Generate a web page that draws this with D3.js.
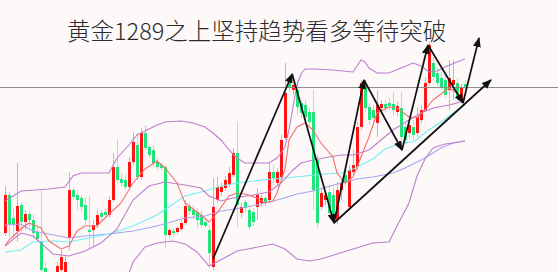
<!DOCTYPE html>
<html>
<head>
<meta charset="utf-8">
<script src="https://cdn.jsdelivr.net/npm/d3@7"></script>
<style>
  html, body { margin: 0; padding: 0; background: #fdf9f9; }
  svg { display: block; }
</style>
</head>
<body>
<div id="chart"></div>
<script>
// gold 1H candles
const titleText = "黄金1289之上坚持趋势看多等待突破";
const keyLevel = 1289;

const opens = [
  1274.4, 1278.2, 1275.9, 1274.6, 1277.2, 1275.5, 1276.3, 1275.7, 1274.5, 1273.6,
  1270.9, 1268.9, 1269.5, 1270.0, 1270.7, 1270.5, 1273.9, 1278.7, 1278.2, 1277.9,
  1277.2, 1274.7, 1274.7, 1275.2, 1276.4, 1276.5, 1276.2, 1277.7, 1281.0, 1279.8,
  1279.7, 1279.0, 1281.5, 1283.2, 1280.0, 1284.4, 1283.0, 1282.7, 1281.5, 1281.2,
  1281.0, 1274.2, 1274.6, 1274.5, 1274.8, 1275.4, 1277.1, 1276.7, 1276.5, 1276.2,
  1275.5, 1274.7, 1271.0, 1277.7, 1278.5, 1278.9, 1279.2, 1280.2, 1282.4, 1276.4,
  1277.5, 1276.7, 1276.5, 1277.0, 1277.4, 1277.9, 1277.7, 1280.5, 1279.4, 1280.0,
  1283.9, 1289.4, 1288.7, 1288.7, 1287.4, 1287.2, 1286.5, 1286.5, 1281.7, 1277.0,
  1277.7, 1278.5, 1278.2, 1275.7, 1278.7, 1280.2, 1277.0, 1280.5, 1281.0, 1285.0,
  1289.4, 1287.0, 1286.7, 1285.4, 1286.9, 1287.3, 1287.4, 1287.3, 1286.5, 1286.9,
  1285.0, 1284.4, 1285.0, 1284.4, 1285.7, 1286.7, 1289.4, 1291.4, 1290.4, 1289.9,
  1289.7, 1288.7, 1289.2, 1289.4, 1287.7, 1289.3
];
const closes = [
  1278.2, 1275.3, 1275.2, 1277.1, 1275.5, 1276.3, 1275.7, 1274.4, 1273.8, 1270.7,
  1269.2, 1269.7, 1270.2, 1271.1, 1272.0, 1271.5, 1278.7, 1278.0, 1277.7, 1277.0,
  1275.7, 1274.5, 1275.2, 1276.2, 1276.0, 1276.2, 1277.7, 1281.0, 1279.7, 1279.4,
  1279.0, 1281.5, 1283.5, 1280.0, 1284.4, 1282.9, 1282.2, 1281.4, 1281.0, 1280.9,
  1274.2, 1274.7, 1274.4, 1274.9, 1275.4, 1277.1, 1276.6, 1276.2, 1275.7, 1275.2,
  1275.1, 1272.4, 1277.0, 1279.0, 1279.0, 1279.7, 1280.4, 1282.4, 1277.2, 1277.0,
  1276.9, 1275.0, 1275.5, 1278.2, 1277.9, 1277.5, 1280.5, 1279.9, 1280.5, 1283.7,
  1288.4, 1288.9, 1289.2, 1287.0, 1286.4, 1286.0, 1285.5, 1278.7, 1275.4, 1278.4,
  1278.2, 1276.4, 1275.9, 1278.7, 1279.4, 1279.4, 1280.7, 1281.2, 1285.0, 1289.4,
  1286.9, 1285.7, 1285.9, 1287.2, 1287.3, 1286.9, 1287.1, 1286.7, 1287.1, 1284.0,
  1283.7, 1285.2, 1284.2, 1286.0, 1286.7, 1289.4, 1293.2, 1290.0, 1289.4, 1289.0,
  1288.2, 1289.9, 1289.7, 1287.9, 1289.0, 1288.9
];
const highs = [
  1279.1, 1278.5, 1277.0, 1281.4, 1277.5, 1276.7, 1276.6, 1276.3, 1274.9, 1278.7,
  1271.5, 1270.1, 1270.5, 1271.5, 1272.7, 1272.2, 1280.5, 1278.9, 1278.7, 1278.2,
  1278.0, 1278.1, 1275.7, 1276.7, 1276.7, 1276.9, 1278.1, 1282.4, 1283.8, 1280.4,
  1280.2, 1282.0, 1284.5, 1284.4, 1284.9, 1285.2, 1283.2, 1283.2, 1281.9, 1281.4,
  1281.2, 1274.9, 1274.8, 1275.1, 1275.7, 1277.7, 1277.4, 1277.2, 1276.9, 1276.7,
  1275.9, 1275.2, 1279.9, 1280.0, 1279.4, 1280.1, 1281.0, 1282.9, 1285.5, 1277.4,
  1277.7, 1277.2, 1276.9, 1278.9, 1278.2, 1278.2, 1281.4, 1281.2, 1280.9, 1284.2,
  1291.4, 1289.7, 1289.5, 1289.7, 1287.7, 1287.7, 1286.9, 1288.7, 1282.2, 1278.9,
  1278.7, 1279.2, 1279.2, 1279.5, 1279.9, 1280.5, 1281.2, 1282.7, 1285.5, 1289.7,
  1289.7, 1287.4, 1287.2, 1288.7, 1287.7, 1287.7, 1287.9, 1288.5, 1287.5, 1288.5,
  1285.5, 1285.9, 1285.7, 1286.9, 1287.2, 1290.0, 1293.5, 1291.9, 1290.9, 1290.5,
  1290.2, 1291.7, 1291.7, 1289.9, 1289.3, 1289.7
];
const lows = [
  1274.1, 1274.0, 1273.9, 1273.5, 1274.5, 1274.7, 1275.0, 1273.9, 1273.5, 1270.2,
  1268.7, 1268.5, 1269.1, 1269.7, 1270.5, 1270.1, 1272.7, 1277.7, 1276.7, 1276.5,
  1275.2, 1272.9, 1273.0, 1274.9, 1275.7, 1275.9, 1275.9, 1277.5, 1279.4, 1279.0,
  1278.7, 1278.7, 1281.2, 1279.7, 1279.7, 1282.7, 1281.9, 1281.0, 1280.7, 1280.7,
  1272.9, 1274.0, 1274.1, 1274.3, 1274.6, 1275.2, 1276.2, 1275.7, 1274.9, 1274.9,
  1275.0, 1270.9, 1270.7, 1277.4, 1278.1, 1278.7, 1279.0, 1280.0, 1275.0, 1275.9,
  1276.5, 1274.7, 1275.1, 1275.7, 1277.0, 1277.1, 1277.4, 1279.2, 1279.2, 1279.7,
  1283.7, 1288.5, 1288.2, 1286.2, 1285.9, 1285.7, 1285.2, 1276.7, 1274.9, 1276.7,
  1277.2, 1276.1, 1275.3, 1275.3, 1277.7, 1279.1, 1276.7, 1280.2, 1280.7, 1284.7,
  1286.5, 1285.2, 1285.5, 1284.0, 1286.5, 1286.5, 1286.7, 1286.2, 1286.1, 1283.7,
  1283.3, 1283.9, 1283.7, 1284.0, 1285.4, 1286.5, 1289.1, 1289.7, 1289.1, 1288.7,
  1287.9, 1286.7, 1287.7, 1287.5, 1287.4, 1288.2
];

// indicator lines, [bar index, price]
const bbUpper = [
  [0, 1277.6], [4, 1278.6], [11, 1278.8], [15, 1279.0], [17, 1280.1], [19, 1280.4],
  [26, 1280.4], [28, 1281.9], [31, 1283.2], [33, 1284.2], [36, 1284.8], [38, 1285.2],
  [40, 1285.5], [44, 1285.6], [47, 1285.4], [50, 1285.0], [52, 1284.4], [54, 1283.7],
  [56, 1282.7], [58, 1281.9], [60, 1281.4], [66, 1281.4], [68, 1281.9], [69, 1282.4],
  [70, 1283.0], [71, 1284.7], [72, 1287.0], [73, 1289.2], [74, 1290.3], [75, 1290.8],
  [77, 1290.8], [82, 1290.7], [87, 1290.5], [88, 1291.1], [89, 1291.7], [90, 1291.5],
  [91, 1290.9], [93, 1290.4], [96, 1290.4], [99, 1290.9], [102, 1291.4], [104, 1291.1],
  [106, 1290.5], [108, 1290.6], [110, 1291.0], [113, 1291.5], [115, 1291.8]
];
const bbMiddle = [
  [0, 1273.1], [4, 1274.4], [7, 1274.1], [12, 1272.3], [16, 1272.1], [20, 1272.6],
  [24, 1273.4], [28, 1274.8], [32, 1277.7], [36, 1279.1], [40, 1279.5], [45, 1279.2],
  [49, 1278.9], [51, 1278.1], [54, 1277.6], [57, 1277.9], [62, 1278.2], [66, 1278.5],
  [69, 1279.4], [72, 1280.7], [74, 1281.4], [77, 1281.7], [81, 1282.0], [84, 1282.2],
  [87, 1282.2], [91, 1282.7], [94, 1283.7], [97, 1284.7], [101, 1285.7], [104, 1286.4],
  [107, 1286.9], [111, 1287.2], [114, 1287.5]
];
const bbLower = [
  [30, 1269.2], [32, 1271.5], [35, 1273.0], [38, 1273.4], [42, 1273.6], [45, 1273.3],
  [48, 1272.5], [51, 1271.1], [53, 1271.5], [58, 1272.6], [62, 1272.9], [67, 1273.3],
  [70, 1272.8], [73, 1271.8], [76, 1271.6], [79, 1271.8], [83, 1272.3], [87, 1272.8],
  [92, 1273.4], [96, 1273.5], [98, 1275.1], [101, 1277.4], [103, 1280.1], [105, 1281.8],
  [107, 1282.9], [110, 1283.3], [112, 1283.4], [115, 1283.6]
];
const maSlow = [
  [0, 1275.2], [4, 1275.3], [7, 1274.6], [16, 1273.9], [20, 1274.1], [26, 1274.3],
  [32, 1274.6], [38, 1275.1], [45, 1275.9], [50, 1276.1], [54, 1276.6], [59, 1276.9],
  [64, 1277.3], [69, 1277.8], [73, 1278.3], [77, 1278.6], [83, 1279.3], [88, 1279.8],
  [92, 1280.0], [97, 1280.4], [100, 1280.9], [105, 1281.9], [109, 1282.9], [112, 1283.4],
  [115, 1283.6]
];
const maMid = [
  [0, 1272.5], [4, 1272.7], [7, 1273.5], [12, 1273.6], [16, 1273.5], [21, 1273.9],
  [26, 1274.3], [32, 1275.1], [38, 1276.2], [45, 1278.1], [50, 1278.6], [54, 1279.1],
  [58, 1279.4], [62, 1279.6], [67, 1279.8], [70, 1279.9], [75, 1280.1], [80, 1280.3],
  [84, 1280.4], [87, 1280.8], [92, 1281.8], [95, 1282.8], [99, 1283.4], [102, 1283.5],
  [106, 1284.7], [109, 1285.5], [112, 1286.4], [115, 1287.2]
];
const maFast = [
  [0, 1273.1], [1, 1273.7], [4, 1274.8], [6, 1275.4], [9, 1274.9], [11, 1273.6],
  [14, 1272.8], [16, 1273.1], [18, 1274.6], [20, 1275.1], [23, 1275.1], [25, 1275.9],
  [29, 1277.4], [32, 1279.4], [35, 1280.8], [38, 1281.6], [40, 1280.9], [43, 1279.4],
  [45, 1277.4], [49, 1276.2], [51, 1275.5], [53, 1276.4], [56, 1278.1], [58, 1278.4],
  [60, 1278.3], [63, 1277.9], [65, 1277.4], [67, 1277.6], [68, 1278.4], [70, 1280.8],
  [71, 1283.7], [73, 1285.0], [75, 1285.4], [77, 1284.7], [79, 1283.4], [82, 1282.0],
  [83, 1280.4], [85, 1279.4], [87, 1280.0], [89, 1282.0], [91, 1284.0], [93, 1286.4],
  [96, 1287.0], [98, 1286.9], [101, 1286.0], [103, 1285.9], [105, 1286.7], [107, 1287.7],
  [111, 1288.9], [113, 1288.4], [115, 1287.7]
];

// hand drawn arrows, [bar index, price] from -> to
const arrows = [
  [[52, 1271.8], [71.8, 1290.3]],
  [[71.8, 1290.3], [82.25, 1275.4]],
  [[82.25, 1275.4], [89.75, 1289.7]],
  [[89.75, 1289.7], [99.25, 1282.7]],
  [[99.25, 1282.7], [105.75, 1293.2]],
  [[105.75, 1293.2], [114.5, 1287.4]],
  [[114.5, 1287.4], [118.5, 1293.9]],
  [[82.25, 1275.4], [121.5, 1289.7]]
];

const width = 558, height = 272;

const svg = d3.select("#chart").append("svg")
  .attr("width", width)
  .attr("height", height);

svg.append("rect").attr("width", width).attr("height", height).attr("fill", "#fdf9f9");

const x = d3.scaleLinear().domain([0, 115]).range([5, 465]);
const y = d3.scaleLinear().domain([1270.5, 1297.7]).range([272, 0]);
const bodyW = 3;

const bars = opens.map((o, i) => ({ i, o, c: closes[i], h: highs[i], l: lows[i] }));

// candles: red = up, green = down
const candle = svg.append("g").selectAll("g").data(bars).join("g");
candle.append("line")
  .attr("x1", d => Math.round(x(d.i)) + 0.5)
  .attr("x2", d => Math.round(x(d.i)) + 0.5)
  .attr("y1", d => y(d.h))
  .attr("y2", d => y(d.l))
  .attr("stroke", d => d.c >= d.o ? "#f7a3a3" : "#98f0b8")
  .attr("stroke-width", 1);
candle.append("rect")
  .attr("x", d => Math.round(x(d.i)) - 1)
  .attr("width", bodyW)
  .attr("y", d => y(Math.max(d.o, d.c)))
  .attr("height", d => Math.max(1, Math.abs(y(d.o) - y(d.c))))
  .attr("fill", d => d.c >= d.o ? "#ff1414" : "#1fe67a");

const line = d3.line().x(d => x(d[0])).y(d => y(d[1]));
const series = [
  { data: maSlow, color: "#a7a3f0" },
  { data: maMid, color: "#74eef0" },
  { data: bbLower, color: "#bd7fcc" },
  { data: bbMiddle, color: "#bd7fcc" },
  { data: bbUpper, color: "#bd7fcc" },
  { data: maFast, color: "#f27070" }
];
svg.append("g").selectAll("path").data(series).join("path")
  .attr("d", d => line(d.data))
  .attr("fill", "none")
  .attr("stroke", d => d.color)
  .attr("stroke-width", 1.1);

// 1289 level
svg.append("line")
  .attr("x1", 0).attr("x2", width)
  .attr("y1", Math.round(y(keyLevel)) + 0.5)
  .attr("y2", Math.round(y(keyLevel)) + 0.5)
  .attr("stroke", "#8c8c8c")
  .attr("stroke-width", 1);

svg.append("defs").append("marker")
  .attr("id", "head")
  .attr("viewBox", "0 0 10 8")
  .attr("refX", 9).attr("refY", 4)
  .attr("markerWidth", 10).attr("markerHeight", 8)
  .attr("markerUnits", "userSpaceOnUse")
  .attr("orient", "auto")
  .append("path")
  .attr("d", "M0,0 L10,4 L0,8 Z")
  .attr("fill", "#111");

svg.append("g").selectAll("line").data(arrows).join("line")
  .attr("x1", d => x(d[0][0])).attr("y1", d => y(d[0][1]))
  .attr("x2", d => x(d[1][0])).attr("y2", d => y(d[1][1]))
  .attr("stroke", "#111")
  .attr("stroke-width", 1.7)
  .attr("marker-end", "url(#head)");

svg.append("text")
  .attr("x", 67)
  .attr("y", 39.5)
  .attr("font-family", "'Noto Sans CJK SC', 'Noto Sans', sans-serif")
  .attr("font-size", 23.5)
  .attr("font-weight", 300)
  .attr("fill", "#2a2a2a")
  .text(titleText);
</script>
</body>
</html>
